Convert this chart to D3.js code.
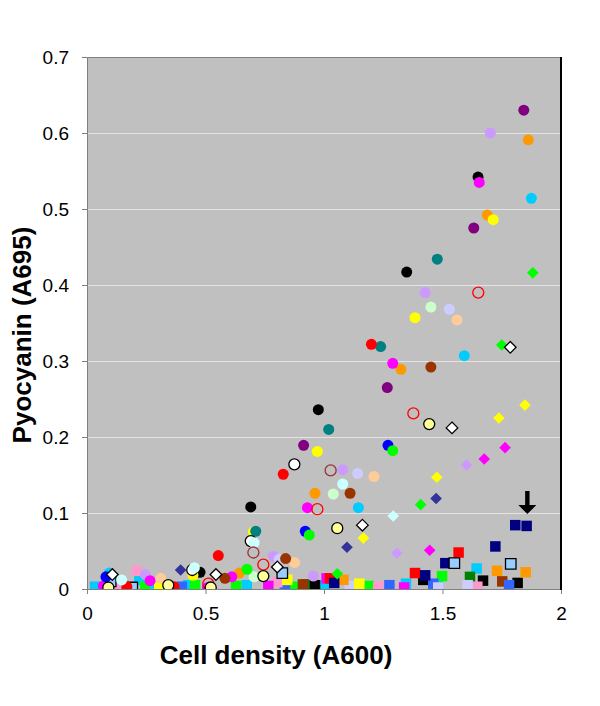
<!DOCTYPE html>
<html>
<head>
<meta charset="utf-8">
<script src="https://cdn.jsdelivr.net/npm/d3@7"></script>
<style>
  html, body { margin: 0; padding: 0; background: #ffffff; }
  svg { display: block; }
  text { font-family: "Liberation Sans", Arial, sans-serif; }
</style>
</head>
<body>
<svg id="chart" width="600" height="706"></svg>
<script>
// ---------------- DATA (x = cell density A600, y = pyocyanin A695) ----------------
const xTickValues = [0, 0.5, 1, 1.5, 2];
const xTickLabels = ["0", "0.5", "1", "1.5", "2"];
const yTickValues = [0, 0.1, 0.2, 0.3, 0.4, 0.5, 0.6, 0.7];
const yTickLabels = ["0", "0.1", "0.2", "0.3", "0.4", "0.5", "0.6", "0.7"];
const xTitle = "Cell density (A600)";
const yTitle = "Pyocyanin (A695)";

// circle series
const purpleCircles = [[1.843,0.630],[1.632,0.475],[1.267,0.265],[0.914,0.189]];
const lavenderCircles = [[1.702,0.600],[1.427,0.390],[1.079,0.157],[0.786,0.043],[0.246,0.019],[0.955,0.017]];
const orangeCircles = [[1.862,0.591],[1.689,0.492],[1.325,0.289],[0.962,0.126],[0.643,0.021]];
const blackCircles = [[1.650,0.542],[1.349,0.417],[0.976,0.236],[0.691,0.108],[0.477,0.022]];
const magentaCircles = [[1.655,0.535],[1.290,0.297],[0.930,0.107],[0.611,0.016],[0.069,0.004],[0.266,0.011],[0.508,0.002]];
const cyanCircles = [[1.875,0.514],[1.592,0.307],[1.145,0.107],[0.094,0.021]];
const yellowCircles = [[1.714,0.486],[1.384,0.357],[0.972,0.181],[0.702,0.075],[0.447,0.018]];
const tealCircles = [[1.478,0.434],[1.239,0.319],[1.020,0.210],[0.712,0.076]];
const lightGreenCircles = [[1.451,0.371],[1.039,0.125],[0.705,0.016]];
const paleBlueCircles = [[1.529,0.368],[1.142,0.152],[0.811,0.039]];
const peachCircles = [[1.561,0.354],[1.211,0.148],[0.876,0.035],[0.311,0.014]];
const brownCircles = [[1.451,0.292],[1.110,0.126],[0.838,0.040],[0.582,0.014]];
const redCircles = [[1.200,0.322],[0.828,0.151],[0.554,0.044],[0.168,0.003],[0.367,0.003]];
const blueCircles = [[1.270,0.189],[0.921,0.076],[0.080,0.016]];
const greenCircles = [[1.290,0.182],[0.938,0.071],[0.675,0.026]];
const whiteCircles = [[0.875,0.164],[0.691,0.063],[0.444,0.025]];
const lightCyanCircles = [[1.079,0.138],[0.705,0.061],[0.453,0.028],[0.146,0.012]];
const openRedCircles = [[1.651,0.390],[1.377,0.231],[0.972,0.105],[0.744,0.032],[0.512,0.007]];
const openDarkRedCircles = [[1.028,0.156],[0.702,0.048]];
const paleYellowCircles = [[1.444,0.217],[1.056,0.080],[0.744,0.017],[0.522,0.002],[0.343,0.005],[0.090,0.002]];

// diamond series
const greenDiamonds = [[1.881,0.416],[1.750,0.321],[1.408,0.111],[1.056,0.020]];
const whiteDiamonds = [[1.786,0.318],[1.540,0.212],[1.162,0.084],[0.803,0.029],[0.544,0.019],[0.107,0.019]];
const yellowDiamonds = [[1.848,0.242],[1.738,0.225],[1.476,0.147],[1.166,0.067]];
const magentaDiamonds = [[1.764,0.186],[1.676,0.171],[1.446,0.051]];
const lavenderDiamonds = [[1.602,0.163],[1.308,0.047]];
const navyDiamonds = [[1.473,0.119],[1.097,0.055],[0.395,0.025]];
const lightCyanDiamonds = [[1.292,0.096]];

// square series
const navySquares = [[1.855,0.083],[1.807,0.084],[1.723,0.056],[1.512,0.034],[1.427,0.018],[1.043,0.008]];
const redSquares = [[1.568,0.048],[1.384,0.021],[1.025,0.014]];
const skyOutlinedSquares = [[1.788,0.033],[1.550,0.034],[0.824,0.021],[0.191,0.002],[0.100,0.010]];
const cyanSquares = [[1.644,0.027],[1.004,0.005],[0.034,0.003],[0.221,0.012],[0.262,0.006],[0.427,0.005],[0.674,0.005],[1.346,0.007],[1.481,0.006]];
const orangeSquares = [[1.730,0.024],[1.851,0.022],[1.082,0.012]];
const greenSquares = [[1.498,0.017],[1.189,0.004],[0.245,0.003],[0.456,0.005],[0.629,0.004],[0.878,0.003]];
const darkGreenSquares = [[1.616,0.016],[0.924,0.006]];
const blackSquares = [[1.671,0.011],[1.817,0.008],[0.962,0.005],[1.419,0.012]];
const brownSquares = [[1.752,0.010],[0.911,0.006]];
const royalBlueSquares = [[1.781,0.005],[1.276,0.005],[1.461,0.007],[0.400,0.003],[0.835,0.003]];
const pinkSquares = [[1.647,0.003],[1.229,0.003],[0.210,0.024],[0.132,0.002],[0.803,0.009]];
const paleBlueSquares = [[1.606,0.005],[1.108,0.004],[1.482,0.002]];
const yellowSquares = [[1.149,0.007],[0.305,0.002],[0.845,0.012]];
const magentaSquares = [[1.338,0.002],[0.765,0.004],[1.011,0.014]];

// arrow annotation (data coordinates)
const arrowX = 1.858;
const arrowTop = 0.129;
const arrowHeadBase = 0.1105;
const arrowTip = 0.0987;

// ---------------- STYLES ----------------
const seriesList = [
  ["square", cyanSquares, "#00ccff", "none"],
  ["square", greenSquares, "#00ff00", "none"],
  ["square", darkGreenSquares, "#008000", "none"],
  ["square", brownSquares, "#993300", "none"],
  ["square", blackSquares, "#000000", "none"],
  ["square", royalBlueSquares, "#3366ff", "none"],
  ["square", pinkSquares, "#ff99cc", "none"],
  ["square", paleBlueSquares, "#ccccff", "none"],
  ["square", yellowSquares, "#ffff00", "none"],
  ["square", magentaSquares, "#ff00ff", "none"],
  ["square", orangeSquares, "#ff9900", "none"],
  ["square", redSquares, "#ff0000", "none"],
  ["square", navySquares, "#000080", "none"],
  ["square", skyOutlinedSquares, "#99ccff", "#000000"],
  ["circle", purpleCircles, "#800080", "none"],
  ["circle", lavenderCircles, "#cc99ff", "none"],
  ["circle", orangeCircles, "#ff9900", "none"],
  ["circle", blackCircles, "#000000", "none"],
  ["circle", magentaCircles, "#ff00ff", "none"],
  ["circle", cyanCircles, "#00ccff", "none"],
  ["circle", yellowCircles, "#ffff00", "none"],
  ["circle", tealCircles, "#008080", "none"],
  ["circle", lightGreenCircles, "#ccffcc", "none"],
  ["circle", paleBlueCircles, "#ccccff", "none"],
  ["circle", peachCircles, "#ffcc99", "none"],
  ["circle", brownCircles, "#993300", "none"],
  ["circle", redCircles, "#ff0000", "none"],
  ["circle", blueCircles, "#0000ff", "none"],
  ["circle", greenCircles, "#00ff00", "none"],
  ["circle", whiteCircles, "#ffffff", "#000000"],
  ["circle", lightCyanCircles, "#ccffff", "none"],
  ["circle", openRedCircles, "none", "#ff0000"],
  ["circle", openDarkRedCircles, "none", "#993333"],
  ["circle", paleYellowCircles, "#ffff99", "#000000"],
  ["diamond", greenDiamonds, "#00ff00", "none"],
  ["diamond", whiteDiamonds, "#ffffff", "#000000"],
  ["diamond", yellowDiamonds, "#ffff00", "none"],
  ["diamond", magentaDiamonds, "#ff00ff", "none"],
  ["diamond", lavenderDiamonds, "#cc99ff", "none"],
  ["diamond", navyDiamonds, "#333399", "none"],
  ["diamond", lightCyanDiamonds, "#ccffff", "none"]
];

// ---------------- DRAW ----------------
const svg = d3.select("#chart");
const x = d3.scaleLinear().domain([0, 2]).range([87, 561]);
const y = d3.scaleLinear().domain([0, 0.7]).range([589, 57]);

// plot background
svg.append("rect")
  .attr("x", x(0)).attr("y", y(0.7))
  .attr("width", x(2) - x(0)).attr("height", y(0) - y(0.7))
  .attr("fill", "#c0c0c0");

// gridlines
svg.append("g").selectAll("line")
  .data(yTickValues.filter(v => v > 0 && v < 0.7))
  .join("line")
  .attr("x1", x(0)).attr("x2", x(2))
  .attr("y1", d => Math.round(y(d)) + 0.5).attr("y2", d => Math.round(y(d)) + 0.5)
  .attr("stroke", "#e4e4e4").attr("stroke-width", 1);

// axes
const yAxis = d3.axisLeft(y).tickValues(yTickValues)
  .tickFormat((d, i) => yTickLabels[i]).tickSize(5).tickPadding(13);
const gy = svg.append("g").attr("transform", `translate(${x(0)},0)`).call(yAxis);
gy.select(".domain").remove();
gy.selectAll(".tick line").attr("stroke", "#808080");
gy.selectAll(".tick text").attr("font-size", 19).attr("fill", "#000")
  .attr("font-family", "'Liberation Sans', Arial, sans-serif");

const xAxis = d3.axisBottom(x).tickValues(xTickValues)
  .tickFormat((d, i) => xTickLabels[i]).tickSize(5).tickPadding(13);
const gx = svg.append("g").attr("transform", `translate(0,${y(0)})`).call(xAxis);
gx.select(".domain").remove();
gx.selectAll(".tick line").attr("stroke", "#808080");
gx.selectAll(".tick text").attr("font-size", 19).attr("fill", "#000")
  .attr("font-family", "'Liberation Sans', Arial, sans-serif");

// frame
svg.append("path")
  .attr("d", `M${x(2)},${y(0.7) + 0.5}H${x(0) + 0.5}V${y(0) + 0.5}H${x(2)}`)
  .attr("fill", "none").attr("stroke", "#808080").attr("stroke-width", 1);
svg.append("line")
  .attr("x1", x(2)).attr("x2", x(2)).attr("y1", y(0.7)).attr("y2", y(0) + 1)
  .attr("stroke", "#000").attr("stroke-width", 2);

// markers
const clipId = "plotclip";
svg.append("clipPath").attr("id", clipId).append("rect")
  .attr("x", x(0)).attr("y", y(0.7) - 10)
  .attr("width", x(2) - x(0)).attr("height", y(0) - y(0.7) + 10);

const marks = svg.append("g").attr("clip-path", `url(#${clipId})`);
const symbolFor = { circle: d3.symbolCircle, square: d3.symbolSquare };
const sizeFor = { circle: Math.PI * 5.5 * 5.5, square: 10.5 * 10.5 };

seriesList.forEach(([shape, data, fill, stroke]) => {
  let sym;
  if (shape === "diamond") {
    sym = { draw(ctx) { const r = 5.8; ctx.moveTo(0, -r); ctx.lineTo(r, 0); ctx.lineTo(0, r); ctx.lineTo(-r, 0); ctx.closePath(); } };
  } else {
    sym = symbolFor[shape];
  }
  const gen = d3.symbol().type(sym).size(sizeFor[shape] || 64);
  marks.append("g").selectAll("path")
    .data(data)
    .join("path")
    .attr("transform", d => `translate(${x(d[0])},${y(d[1])})`)
    .attr("d", gen())
    .attr("fill", fill)
    .attr("stroke", stroke)
    .attr("stroke-width", stroke === "none" ? 0 : 1.3);
});

// arrow
const ax = x(arrowX);
svg.append("path")
  .attr("d", `M${ax - 2.2},${y(arrowTop)}H${ax + 2.2}V${y(arrowHeadBase)}H${ax + 9}L${ax},${y(arrowTip)}L${ax - 9},${y(arrowHeadBase)}H${ax - 2.2}Z`)
  .attr("fill", "#000");

// titles
svg.append("text")
  .attr("x", 276).attr("y", 664)
  .attr("text-anchor", "middle")
  .attr("font-size", 26).attr("font-weight", "bold")
  .text(xTitle);

svg.append("text")
  .attr("transform", "translate(31,335) rotate(-90)")
  .attr("text-anchor", "middle")
  .attr("font-size", 26).attr("font-weight", "bold")
  .text(yTitle);
</script>
</body>
</html>
